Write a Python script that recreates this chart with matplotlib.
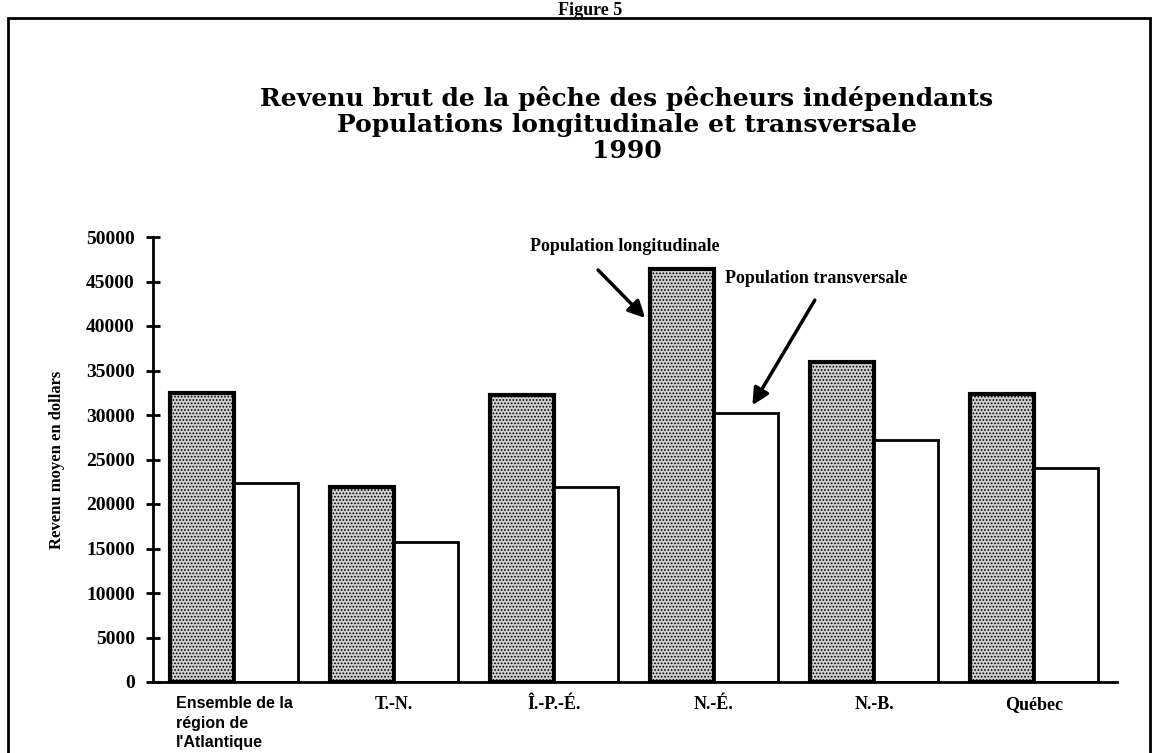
import numpy as np
import matplotlib.pyplot as plt
from matplotlib.patches import Rectangle

# data
categories = ["Ensemble de la\nrégion de\nl'Atlantique", "T.-N.", "Î.-P.-É.", "N.-É.", "N.-B.", "Québec"]
longitudinale = [32500, 21900, 32200, 46400, 36000, 32400]
transversale = [22400, 15700, 21900, 30200, 27200, 24100]
yticks = [0, 5000, 10000, 15000, 20000, 25000, 30000, 35000, 40000, 45000, 50000]

title = ("Revenu brut de la pêche des pêcheurs indépendants\n"
         "Populations longitudinale et transversale\n"
         "1990")

plt.rcParams['hatch.color'] = '#4a4a4a'
plt.rcParams['hatch.linewidth'] = 0.8

serif = 'Liberation Serif'

fig = plt.figure(figsize=(11.54, 7.53), dpi=100)
ax = fig.add_axes([153/1154, 1-682/753, (1117-153)/1154, (682-237)/753])

x = np.arange(len(categories))
w = 0.4
ax.bar(x, longitudinale, width=w, align='edge', facecolor='#cfcfcf',
       edgecolor='black', linewidth=3, hatch='.....')
ax.bar(x + w, transversale, width=w, align='edge', facecolor='white',
       edgecolor='black', linewidth=2)

ax.set_xlim(-17/160, (1117-170)/160)
ax.set_ylim(0, 50000)
ax.set_yticks(yticks)
ax.set_yticklabels([str(v) for v in yticks], fontfamily=serif,
                   fontweight='bold', fontsize=14)
ax.tick_params(axis='y', direction='inout', length=10, width=2, pad=8)
ax.set_xticks(x + w)
ax.set_xticklabels(categories, fontfamily=serif, fontweight='bold', fontsize=13)
ax.tick_params(axis='x', length=0, pad=10)
lab0 = ax.get_xticklabels()[0]
lab0.set_fontfamily('Liberation Sans')
lab0.set_fontsize(11.5)
lab0.set_multialignment('left')
lab0.set_linespacing(1.4)

for s in ['top', 'right']:
    ax.spines[s].set_visible(False)
ax.spines['left'].set_linewidth(2)
ax.spines['bottom'].set_linewidth(2)

ax.set_ylabel("Revenu moyen en dollars", fontfamily=serif,
              fontweight='bold', fontsize=12)
ax.yaxis.set_label_coords(-0.091, 0.5)

# callouts
ax.text(2.84, 48900, "Population longitudinale", ha='center', va='center',
        fontfamily=serif, fontweight='bold', fontsize=13)
ax.annotate("", xy=(2.97, 40900), xytext=(2.675, 46300),
            arrowprops=dict(arrowstyle='-|>', lw=2.5, color='black',
                            mutation_scale=25, shrinkA=0, shrinkB=0))
ax.text(3.47, 45300, "Population transversale", ha='left', va='center',
        fontfamily=serif, fontweight='bold', fontsize=13)
ax.annotate("", xy=(3.64, 31100), xytext=(4.03, 42900),
            arrowprops=dict(arrowstyle='-|>', lw=2.5, color='black',
                            mutation_scale=25, shrinkA=0, shrinkB=0))

fig.text(627/1154, 1-86/753, title, ha='center', va='top', fontfamily='DejaVu Serif',
         fontweight='bold', fontsize=18, linespacing=1.1)

# page frame and figure number
fig.add_artist(Rectangle((8/1154, -0.01), 1142/1154, 1-18/753+0.01,
                         transform=fig.transFigure, fill=False, lw=2, color='black'))
fig.text(590/1154, 1-15/753, "Figure 5", ha='center', va='baseline',
         fontfamily=serif, fontweight='bold', fontsize=13)

fig.savefig('out.png', dpi=100)
